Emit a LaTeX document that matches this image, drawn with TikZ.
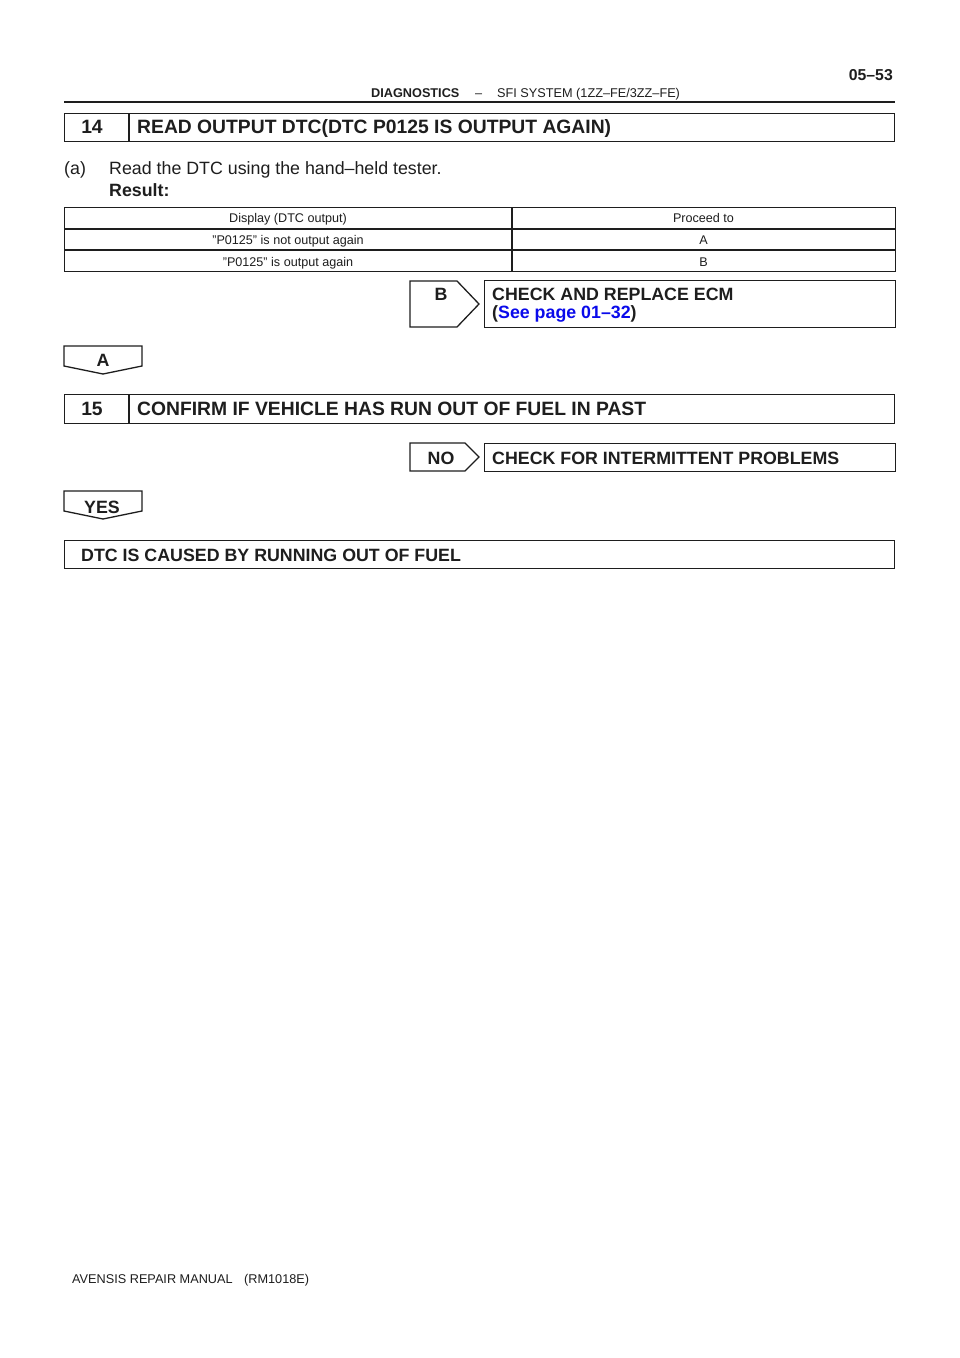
\documentclass[tikz,border=0pt]{standalone}
\usepackage{fontspec}
\setmainfont{Liberation Sans}
\definecolor{ink}{RGB}{30,30,30}
\definecolor{linkblue}{RGB}{10,10,235}
\begin{document}
\begin{tikzpicture}[x=1pt,y=-1pt,
  box/.style={draw=ink,line width=1.3pt,inner sep=0pt,anchor=north west},
  tagbox/.style={draw=ink,line width=1.3pt},
  txt/.style={inner sep=0pt,text=ink,anchor=base west},
  ctxt/.style={inner sep=0pt,text=ink,anchor=base},
  stepfont/.style={font=\fontsize{19.3}{22}\selectfont\bfseries},
  resfont/.style={font=\fontsize{17.8}{21}\selectfont\bfseries},
  bodyfont/.style={font=\fontsize{17.8}{21}\selectfont},
  tabfont/.style={font=\fontsize{12.6}{15}\selectfont},
  hdrfont/.style={font=\fontsize{12.7}{15}\selectfont}]
\useasboundingbox (0,0) rectangle (960,1358);
\fill[white] (0,0) rectangle (960,1358);

% header
\node[txt,anchor=base east,font=\fontsize{15.8}{18}\selectfont\bfseries] (pg) at (893,80) {05–53};
\node[txt,hdrfont,anchor=base west] (hd1) at (371,97.5) {\bfseries DIAGNOSTICS};
\node[txt,hdrfont] (hd2) at (475,97.5) {–};
\node[txt,hdrfont] (hd3) at (497,97.5) {SFI SYSTEM (1ZZ–FE/3ZZ–FE)};
\draw[ink,line width=2pt] (64,101.5) -- (895,101.5);

% step 14
\node[box,minimum width=830pt,minimum height=28pt] (b14) at (64,113) {};
\draw[ink,line width=1.3pt] (129,113) -- (129,141);
\node[ctxt,stepfont] (n14) at (92,133) {14};
\node[txt,stepfont] (t14) at (137,133) {READ OUTPUT DTC(DTC P0125 IS OUTPUT AGAIN)};

\node[txt,bodyfont] (a) at (64,174.5) {(a)};
\node[txt,bodyfont] (read) at (109,174.5) {Read the DTC using the hand–held tester.};
\node[txt,bodyfont,font=\fontsize{17.8}{21}\selectfont\bfseries] (res) at (109,196.5) {Result:};

% table
\node[box,minimum width=831pt,minimum height=64pt] (tab) at (64,207) {};
\draw[ink,line width=1.3pt] (64,229) -- (895,229);
\draw[ink,line width=1.3pt] (64,250) -- (895,250);
\draw[ink,line width=1.3pt] (512,207) -- (512,271);
\node[ctxt,tabfont] (c11) at (288,222.5) {Display (DTC output)};
\node[ctxt,tabfont] (c12) at (703.5,222.5) {Proceed to};
\node[ctxt,tabfont] (c21) at (288,244.5) {”P0125” is not output again};
\node[ctxt,tabfont] (c22) at (703.5,244.5) {A};
\node[ctxt,tabfont] (c31) at (288,266) {”P0125” is output again};
\node[ctxt,tabfont] (c32) at (703.5,266) {B};

% B branch
\draw[tagbox] (410,281) -- (457,281) -- (479,304) -- (457,327) -- (410,327) -- cycle;
\node[ctxt,resfont] (tB) at (441,300.5) {B};
\node[box,minimum width=411pt,minimum height=47pt] (ecm) at (484,280) {};
\node[txt,resfont] (ecm1) at (492,300) {CHECK AND REPLACE ECM};
\node[txt,resfont] (ecm2) at (492,318) {(\textcolor{linkblue}{See page 01–32})};

% A tag
\draw[tagbox] (64,346) -- (142,346) -- (142,366) -- (103,374) -- (64,366) -- cycle;
\node[ctxt,resfont] (tA) at (103,366) {A};

% step 15
\node[box,minimum width=830pt,minimum height=29pt] (b15) at (64,394) {};
\draw[ink,line width=1.3pt] (129,394) -- (129,423);
\node[ctxt,stepfont] (n15) at (92,415) {15};
\node[txt,stepfont] (t15) at (137,415) {CONFIRM IF VEHICLE HAS RUN OUT OF FUEL IN PAST};

% NO branch
\draw[tagbox] (410,443) -- (465,443) -- (479,457) -- (465,471) -- (410,471) -- cycle;
\node[ctxt,resfont] (tNO) at (441,464) {NO};
\node[box,minimum width=411pt,minimum height=28pt] (inter) at (484,443) {};
\node[txt,resfont] (intert) at (492,464) {CHECK FOR INTERMITTENT PROBLEMS};

% YES tag
\draw[tagbox] (64,491) -- (142,491) -- (142,511) -- (103,519) -- (64,511) -- cycle;
\node[ctxt,resfont] (tYES) at (102,513) {YES};

% final
\node[box,minimum width=830pt,minimum height=28pt] (fin) at (64,540) {};
\node[txt,resfont] (fint) at (81,561) {DTC IS CAUSED BY RUNNING OUT OF FUEL};

% footer
\node[txt,hdrfont] (ft1) at (72,1283.5) {AVENSIS REPAIR MANUAL};
\node[txt,hdrfont] (ft2) at (244,1283.5) {(RM1018E)};
\end{tikzpicture}
\end{document}
